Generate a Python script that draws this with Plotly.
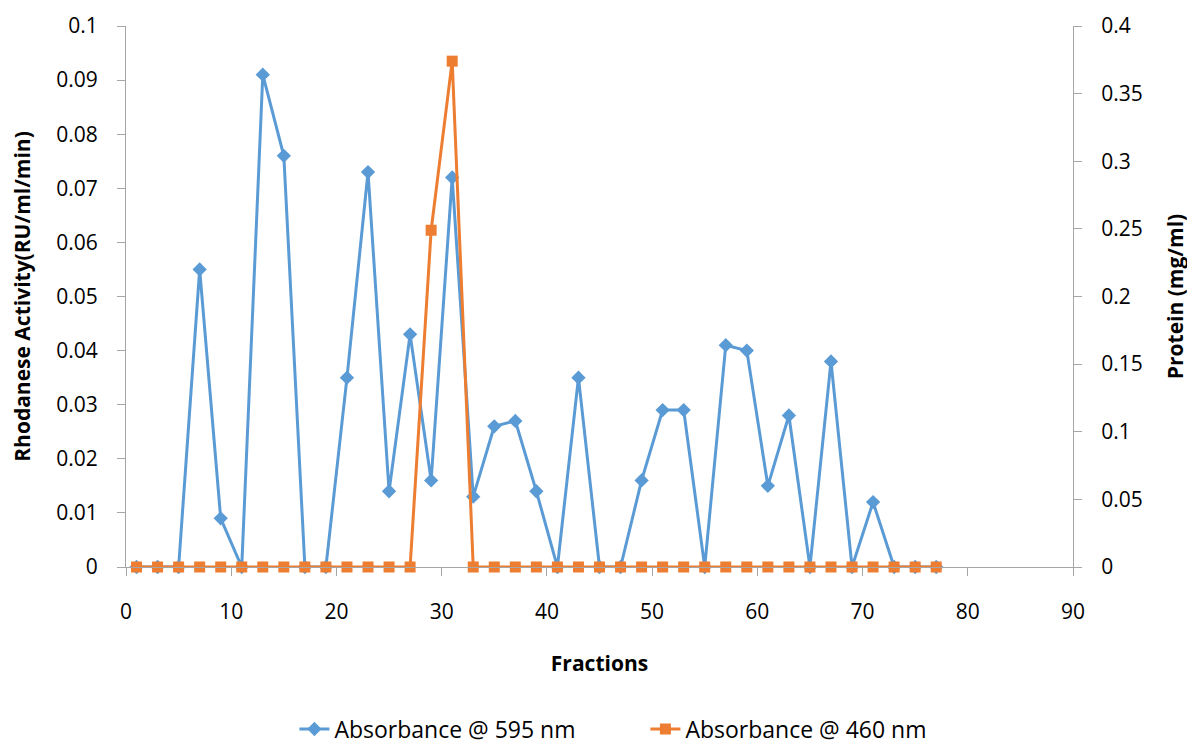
import plotly.graph_objects as go

fractions = list(range(1, 79, 2))  # 1..77
abs595 = [0, 0, 0, 0.055, 0.009, 0, 0.091, 0.076, 0, 0,
          0.035, 0.073, 0.014, 0.043, 0.016, 0.072, 0.013, 0.026, 0.027, 0.014,
          0, 0.035, 0, 0, 0.016, 0.029, 0.029, 0, 0.041, 0.040,
          0.015, 0.028, 0, 0.038, 0, 0.012, 0, 0, 0]
abs460 = [0]*14 + [0.249, 0.374] + [0]*23

blue = "#5B9BD5"
orange = "#ED7D31"
font = "Open Sans"

fig = go.Figure()
fig.add_trace(go.Scatter(x=fractions, y=abs595, mode="lines+markers", name="Absorbance @ 595 nm",
                         line=dict(color=blue, width=3), cliponaxis=False,
                         marker=dict(symbol="diamond", size=11, color=blue), yaxis="y"))
fig.add_trace(go.Scatter(x=fractions, y=abs460, mode="lines+markers", name="Absorbance @ 460 nm",
                         line=dict(color=orange, width=3), cliponaxis=False,
                         marker=dict(symbol="square", size=11, color=orange), yaxis="y2"))

axis_common = dict(showgrid=False, zeroline=False, showline=True, linecolor="#A6A6A6", linewidth=1,
                   ticks="outside", tickcolor="#A6A6A6", ticklen=8, automargin=False,
                   tickfont=dict(family=font, size=21, color="#000"))

fig.update_layout(
    width=1187, height=738,
    margin=dict(l=118, r=122, t=18, b=179),
    plot_bgcolor="white", paper_bgcolor="white",
    font=dict(family=font, color="#000"),
    xaxis=dict(range=[0, 90], dtick=10, tick0=0, ticklabelstandoff=18,
               title=dict(text="<b>Fractions</b>", font=dict(family=font, size=21), standoff=32),
               **axis_common),
    yaxis=dict(range=[0, 0.1], dtick=0.01, tickformat="~g", ticklabelstandoff=15,
               title=dict(text="<b>Rhodanese Activity(RU/ml/min)</b>", font=dict(family=font, size=21), standoff=21),
               **axis_common),
    yaxis2=dict(range=[0, 0.4], dtick=0.05, tickformat="~g", overlaying="y", side="right", ticklabelstandoff=15,
                title=dict(text="<b>Protein (mg/ml)</b>", font=dict(family=font, size=21), standoff=26),
                **axis_common),
    legend=dict(orientation="h", xref="container", yref="container",
                x=0.537, xanchor="center", y=0.023, yanchor="middle",
                font=dict(family=font, size=23), entrywidth=306, tracegroupgap=0),
    showlegend=True,
)

fig.write_html("out.html")
